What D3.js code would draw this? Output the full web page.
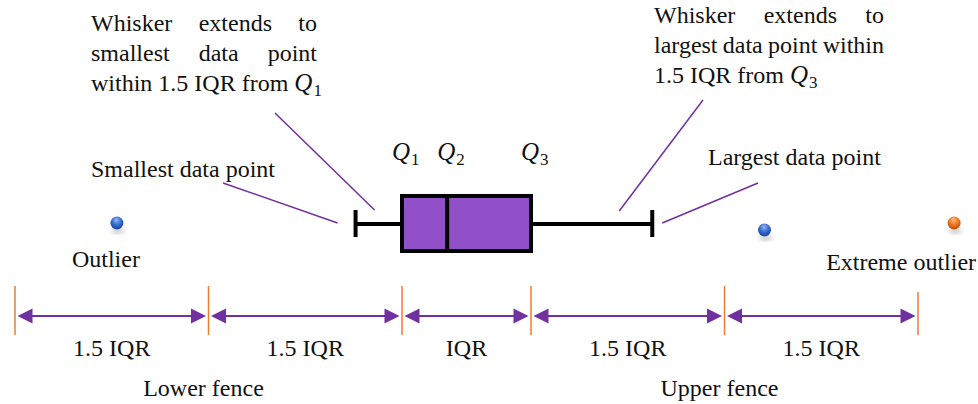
<!DOCTYPE html>
<html lang="en">
<head>
<meta charset="utf-8">
<title>Box plot anatomy</title>
<script src="https://cdn.jsdelivr.net/npm/d3@7"></script>
<style>
  html, body { margin: 0; padding: 0; background: #fff; }
  svg { display: block; }
</style>
</head>
<body>
<div id="chart"></div>
<script>
// Data (in units of IQR, Q1 = 0, Q3 = 1)
var fenceValues = [-3, -1.5, 0, 1, 2.5, 4];
var segmentLabels = ["1.5 IQR", "1.5 IQR", "IQR", "1.5 IQR", "1.5 IQR"];
var fenceLabels = [{ value: -1.5, text: "Lower fence" }, { value: 2.5, text: "Upper fence" }];
var boxStats = { whiskerLow: -0.36, q1: 0, median: 0.35, q3: 1, whiskerHigh: 1.94 };
var quartileLabels = [{ value: 0, text: "Q_1" }, { value: 0.35, text: "Q_2" }, { value: 1, text: "Q_3" }];
var outlierValues = [-2.21, 2.81, 4.28];
var outlierKinds = ["outlier", "outlier", "extreme"];
var leftNote = ["Whisker extends to", "smallest data point", "within 1.5 IQR from Q_1"];
var rightNote = ["Whisker extends to", "largest data point within", "1.5 IQR from Q_3"];

// Setup
var width = 978, height = 404;
var purple = "#7030a0";
var orange = "#ed7d31";
var boxFill = "#914fc8";

var svg = d3.select("#chart").append("svg")
    .attr("width", width)
    .attr("height", height);

var x = d3.scaleLinear().domain([-3, 4]).range([15, 918]);

// all text goes through here so the font is set on every element
function txt(g, xPos, y, s) {
    return g.append("text")
        .attr("x", xPos).attr("y", y)
        .attr("font-family", "Liberation Serif")
        .attr("font-size", 24)
        .attr("fill", "#111")
        .text(s || null);
}

var defs = svg.append("defs");
function sphereGradient(id, light, mid, dark) {
    var g = defs.append("radialGradient").attr("id", id)
        .attr("cx", "50%").attr("cy", "35%").attr("r", "60%").attr("fx", "45%").attr("fy", "25%");
    g.append("stop").attr("offset", "0%").attr("stop-color", light);
    g.append("stop").attr("offset", "55%").attr("stop-color", mid);
    g.append("stop").attr("offset", "100%").attr("stop-color", dark);
}
sphereGradient("blueBall", "#9ab8f2", "#3a6fd0", "#1f4a9e");
sphereGradient("orangeBall", "#ffc08a", "#f07a22", "#c4500c");
defs.append("filter").attr("id", "blur").append("feGaussianBlur").attr("stdDeviation", 2);

// Writes one word; "Q_n" becomes italic Q with subscript n
function word(g, w, xPos, y) {
    var t = txt(g, xPos, y);
    var m = /^Q_(\d)$/.exec(w);
    if (m) {
        t.append("tspan").attr("font-style", "italic").attr("font-size", 25).text("Q");
        t.append("tspan").attr("dx", 1).attr("dy", 5).attr("font-size", 17).text(m[1]);
    } else {
        t.text(w);
    }
    return t;
}

// Justified paragraph (last line left aligned)
function paragraph(lines, x0, x1, y0, lh) {
    var g = svg.append("g");
    lines.forEach(function(line, i) {
        var y = y0 + i * lh;
        var words = line.split(" ");
        var nodes = words.map(function(w) { return word(g, w, x0, y); });
        var widths = nodes.map(function(n) { return n.node().getComputedTextLength(); });
        var gap = 6;
        if (i < lines.length - 1 && words.length > 1) {
            gap = (x1 - x0 - d3.sum(widths)) / (words.length - 1);
        }
        var cx = x0;
        nodes.forEach(function(n, j) {
            n.attr("x", cx);
            cx += widths[j] + gap;
        });
    });
}

paragraph(leftNote, 91, 317, 31, 30);
paragraph(rightNote, 654, 884, 23, 30);
txt(svg, 91, 177, "Smallest data point");
txt(svg, 708, 165, "Largest data point");

// Callout lines
var callouts = [
    [275, 113, x(boxStats.whiskerLow) + 19, 210],
    [223, 183, x(boxStats.whiskerLow) - 18, 223],
    [703, 100, x(boxStats.whiskerHigh) - 33, 211],
    [758, 183, x(boxStats.whiskerHigh) + 10, 223]
];
svg.append("g").selectAll("line").data(callouts).join("line")
    .attr("x1", function(d) { return d[0]; }).attr("y1", function(d) { return d[1]; })
    .attr("x2", function(d) { return d[2]; }).attr("y2", function(d) { return d[3]; })
    .attr("stroke", purple).attr("stroke-width", 1.5);

// Box and whiskers
var midY = 224, boxTop = 196, boxBottom = 251;
var bp = svg.append("g").attr("stroke", "#000").attr("stroke-width", 4);
bp.append("line").attr("x1", x(boxStats.whiskerLow)).attr("x2", x(boxStats.q1)).attr("y1", midY).attr("y2", midY);
bp.append("line").attr("x1", x(boxStats.q3)).attr("x2", x(boxStats.whiskerHigh)).attr("y1", midY).attr("y2", midY);
[boxStats.whiskerLow, boxStats.whiskerHigh].forEach(function(v) {
    bp.append("line").attr("x1", x(v)).attr("x2", x(v)).attr("y1", 210).attr("y2", 237);
});
bp.append("rect")
    .attr("x", x(boxStats.q1)).attr("y", boxTop)
    .attr("width", x(boxStats.q3) - x(boxStats.q1)).attr("height", boxBottom - boxTop)
    .attr("fill", boxFill);
bp.append("line").attr("x1", x(boxStats.median)).attr("x2", x(boxStats.median)).attr("y1", boxTop).attr("y2", boxBottom);

// Quartile labels
quartileLabels.forEach(function(d) {
    word(svg, d.text, x(d.value) - 10, 160);
});

// Outliers
var outlierJitter = [0, 7, 0];
outlierValues.forEach(function(v, i) {
    var cx = x(v), cy = 223 + outlierJitter[i];
    svg.append("ellipse").attr("cx", cx + 1).attr("cy", cy + 8).attr("rx", 7).attr("ry", 3)
        .attr("fill", "#999").attr("opacity", 0.45).attr("filter", "url(#blur)");
    svg.append("circle").attr("cx", cx).attr("cy", cy).attr("r", 6.5)
        .attr("fill", outlierKinds[i] === "extreme" ? "url(#orangeBall)" : "url(#blueBall)");
});
txt(svg, x(outlierValues[0]) - 11, 267, "Outlier").attr("text-anchor", "middle");
txt(svg, x(outlierValues[2]) - 53, 270, "Extreme outlier").attr("text-anchor", "middle");

// Fence markers
var arrowY = 316;
svg.append("g").selectAll("line").data(fenceValues).join("line")
    .attr("x1", function(d) { return x(d); }).attr("x2", function(d) { return x(d); })
    .attr("y1", function(d, i) { return i === fenceValues.length - 1 ? 292 : 286; })
    .attr("y2", 335)
    .attr("stroke", orange).attr("stroke-width", 1.5);

// Double arrows between fences
var segs = d3.pairs(fenceValues);
var ag = svg.append("g");
segs.forEach(function(s, i) {
    var a = x(s[0]) + 2.5, b = x(s[1]) - 2.5;
    ag.append("line").attr("x1", a + 10).attr("x2", b - 10).attr("y1", arrowY).attr("y2", arrowY)
        .attr("stroke", purple).attr("stroke-width", 2);
    ag.append("path").attr("d", "M" + a + "," + arrowY + "L" + (a + 15) + "," + (arrowY - 7.5) + "L" + (a + 15) + "," + (arrowY + 7.5) + "Z")
        .attr("fill", purple);
    ag.append("path").attr("d", "M" + b + "," + arrowY + "L" + (b - 15) + "," + (arrowY - 7.5) + "L" + (b - 15) + "," + (arrowY + 7.5) + "Z")
        .attr("fill", purple);
    txt(ag, (x(s[0]) + x(s[1])) / 2, 356, segmentLabels[i]).attr("text-anchor", "middle");
});

// Fence names
fenceLabels.forEach(function(d) {
    txt(svg, x(d.value) - 5, 396, d.text).attr("text-anchor", "middle");
});
</script>
</body>
</html>
